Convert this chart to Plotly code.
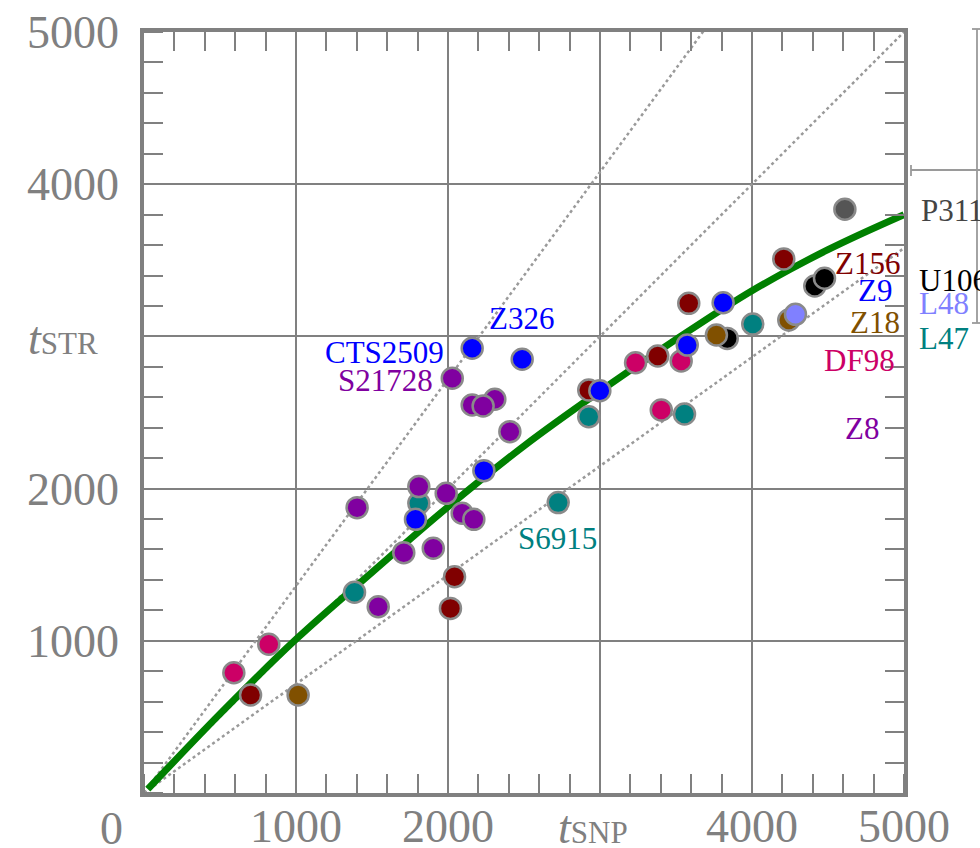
import plotly.graph_objects as go

FONT = "Liberation Serif"
GRAY = "#808080"

# ---------------- data ----------------
# clade points: t_SNP (x) and t_STR (y)
l47_x = [1385, 1808, 2725, 2926, 3556, 4005]
l47_y = [1319, 1903, 1908, 2472, 2490, 3081]
df98_x = [591, 821, 3234, 3534, 3403]
df98_y = [790, 977, 2827, 2838, 2516]
z156_x = [701, 2016, 2043, 2926, 3380, 3584, 4209]
z156_y = [644, 1213, 1421, 2648, 2871, 3217, 3509]
u106_x = [3837, 4413, 4477]
u106_y = [2987, 3331, 3382]
z18_x = [1014, 3766, 4242]
z18_y = [644, 3009, 3108]
z8_x = [1541, 1402, 1709, 1903, 1808, 1988, 2093, 2170, 2028, 2159, 2308, 2231, 2407]
z8_y = [1224, 1875, 1579, 1608, 2013, 1969, 1838, 1798, 2725, 2549, 2587, 2543, 2374]
z9_x = [1786, 2236, 2159, 2488, 2999, 3574, 3810]
z9_y = [1798, 2118, 2922, 2850, 2643, 2943, 3221]
l48_x = [4286]
l48_y = [3145]
p311_x = [4611]
p311_y = [3835]

# fitted curve (green)
fit_x = [25, 500, 1000, 1500, 2000, 2500, 3000, 3500, 4000, 4500, 5000]
fit_y = [25, 520, 1010, 1450, 1880, 2280, 2640, 2980, 3300, 3570, 3800]

# dotted reference lines t_STR = r * t_SNP
guide_ratios = [1.36, 1.0, 0.716]
guide_x = [0, 5000]

# axis ticks
tick_vals = [0, 1000, 2000, 3000, 4000, 5000]
tick_text = ["", "1000", "2000", "", "4000", "5000"]

groups = [
    ("L47", l47_x, l47_y, "#008080"),
    ("DF98", df98_x, df98_y, "#CC0066"),
    ("Z156", z156_x, z156_y, "#800000"),
    ("U106", u106_x, u106_y, "#000000"),
    ("Z18", z18_x, z18_y, "#805000"),
    ("Z8", z8_x, z8_y, "#8000A0"),
    ("Z9", z9_x, z9_y, "#0000FF"),
    ("L48", l48_x, l48_y, "#8080FF"),
    ("P311", p311_x, p311_y, "#555555"),
]

fig = go.Figure()

for r in guide_ratios:
    fig.add_trace(go.Scatter(
        x=guide_x, y=[v * r for v in guide_x], mode="lines",
        line=dict(color="#9a9a9a", width=2.5, dash="dot"),
        showlegend=False, hoverinfo="skip"))

fig.add_trace(go.Scatter(
    x=fit_x, y=fit_y, mode="lines", line=dict(color="#008000", width=7, shape="spline"),
    showlegend=False, hoverinfo="skip"))

for name, xs, ys, col in groups:
    fig.add_trace(go.Scatter(
        x=xs, y=ys, mode="markers", name=name,
        marker=dict(size=21, color=col, line=dict(color="#8a8a8a", width=2.5)),
        showlegend=False))

# helper traces for mirrored minor ticks (top / right)
fig.add_trace(go.Scatter(x=[None], y=[None], xaxis="x2", yaxis="y", showlegend=False, hoverinfo="skip"))
fig.add_trace(go.Scatter(x=[None], y=[None], xaxis="x", yaxis="y2", showlegend=False, hoverinfo="skip"))

minor = dict(tickmode="linear", tick0=0, dtick=200, ticks="inside", ticklen=19,
             tickwidth=2, tickcolor=GRAY, showgrid=False)

axis_common = dict(range=[0, 5000], tickmode="array", tickvals=tick_vals, ticktext=tick_text,
                   ticks="", showgrid=True, gridcolor=GRAY, gridwidth=2, zeroline=False,
                   showline=True, linecolor=GRAY, linewidth=3.5, mirror=True, automargin=False,
                   ticklabeloverflow="allow",
                   tickfont=dict(family=FONT, size=46, color=GRAY), minor=minor)

# plot area on screen, in pixels (body margin removed by post_script)
W, H = 980, 848
L, R, T, B = 144, 904, 32, 793

fig.update_layout(
    width=W, height=H,
    margin=dict(l=L, r=W - R, t=T, b=H - B),
    paper_bgcolor="white", plot_bgcolor="white",
    xaxis=dict(**axis_common, ticklabelstandoff=-10),
    yaxis=dict(**axis_common, ticklabelstandoff=12),
    xaxis2=dict(range=[0, 5000], overlaying="x", side="top", anchor="y", showgrid=False,
                zeroline=False, showline=False, showticklabels=False, ticks="", automargin=False,
                tickmode="linear", dtick=1000, minor=minor),
    yaxis2=dict(range=[0, 5000], overlaying="y", side="right", anchor="x", showgrid=False,
                zeroline=False, showline=False, showticklabels=False, ticks="", automargin=False,
                tickmode="linear", dtick=1000, minor=minor),
    showlegend=False,
)

def px(xp, yp):
    return (xp - L) / (R - L), (B - yp) / (B - T)

def label(text, xp, yp, color, anchor="center", size=31):
    x, y = px(xp, yp)
    fig.add_annotation(x=x, y=y, xref="paper", yref="paper", text=text, showarrow=False,
                       xanchor=anchor, yanchor="middle",
                       font=dict(family=FONT, size=size, color=color))

# clade labels (screen pixel positions)
label("Z326", 521, 318, "#0000FF")
label("CTS2509", 446, 352, "#0000FF", "right")
label("S21728", 435, 380, "#8000A0", "right")
label("S6915", 557, 538, "#008080")
label("Z156", 902, 263, "#800000", "right")
label("Z9", 894, 290, "#0000FF", "right")
label("Z18", 902, 322, "#805000", "right")
label("DF98", 897, 360, "#CC0066", "right")
label("Z8", 881, 428, "#8000A0", "right")
label("P311", 919, 210, "#444444", "left")
label("U106", 917, 280, "#000000", "left")
label("L48", 917, 303, "#8080FF", "left")
label("L47", 917, 338, "#008080", "left")

# axis titles and origin label
label("0", 111, 828, GRAY, size=46)
label("<i>t</i><span style='font-size:31px'>SNP</span>", 593, 827, GRAY, size=46)
label("<i>t</i><span style='font-size:31px'>STR</span>", 63, 338, GRAY, size=46)

# partial bracket elements at the right edge
bc = "#9a9a9a"
def seg(x0p, y0p, x1p, y1p):
    x0, y0 = px(x0p, y0p)
    x1, y1 = px(x1p, y1p)
    fig.add_shape(type="line", xref="paper", yref="paper", x0=x0, y0=y0, x1=x1, y1=y1,
                  line=dict(color=bc, width=1.8))
seg(977, 29, 977, 323)
seg(972, 29, 982, 29)
seg(972, 323, 982, 323)
seg(911, 170, 982, 170)
seg(911, 165, 911, 176)

fig.write_html("out.html", config={"displayModeBar": False},
               post_script="document.body.style.margin='0px';")
